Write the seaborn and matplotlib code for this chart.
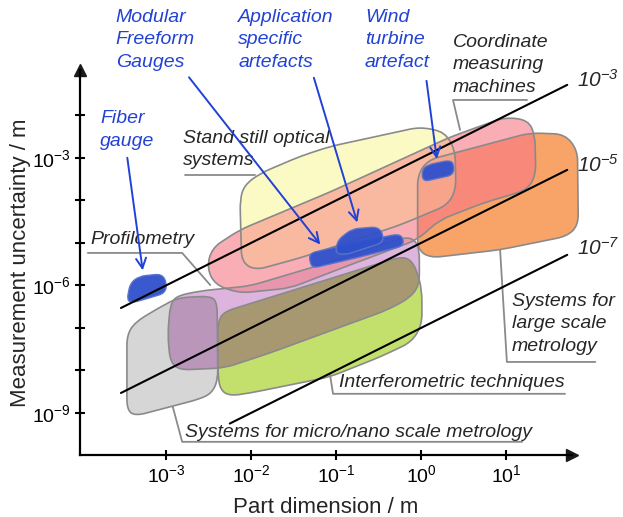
import numpy as np
import pandas as pd
import matplotlib
matplotlib.use('Agg')
import matplotlib.pyplot as plt
from matplotlib.path import Path
from matplotlib.patches import PathPatch
import seaborn as sns

# --- Data: region outlines, as decade exponents (log10 of metres) ---
# part dimension L and measurement uncertainty U
gray_logL = [-3.46, -3.36, -3.07, -2.86, -2.48, -2.40, -2.39, -2.46, -2.60, -3.36, -3.46]
gray_logU = [-7.16, -6.86, -6.51, -6.29, -6.25, -6.39, -8.22, -8.53, -8.67, -9.07, -8.93]

purple_logL = [-2.98, -2.95, -2.88, -2.60, -2.01, -1.07, -0.19, -0.07, -0.02, -0.02, -0.13, -0.40, -1.07, -1.78, -2.31, -2.84, -2.95]
purple_logU = [-7.16, -6.46, -6.25, -6.13, -6.01, -5.45, -4.86, -4.93, -5.16, -5.99, -6.29, -6.58, -7.07, -7.59, -7.94, -7.99, -7.80]

green_logL = [-2.39, -2.32, -1.42, -0.25, -0.13, -0.05, 0.01, 0.01, -0.11, -0.48, -1.07, -2.01, -2.25, -2.36, -2.39]
green_logU = [-6.86, -6.62, -6.06, -5.33, -5.38, -5.64, -6.11, -6.93, -7.33, -7.68, -8.15, -8.53, -8.60, -8.46, -8.11]

yellow_logL = [-2.13, -2.08, -1.89, -1.42, -1.07, -0.01, 0.28, 0.40, 0.41, 0.31, -0.25, -1.42, -1.95, -2.11]
yellow_logU = [-3.99, -3.64, -3.36, -2.96, -2.73, -2.27, -2.39, -2.81, -3.75, -4.11, -4.58, -5.35, -5.64, -5.45]

pink_logL = [-2.52, -2.46, -2.13, -1.07, 0.34, 0.99, 1.26, 1.34, 1.35, 1.25, 0.73, 0.22, -0.05, -0.84, -1.54, -2.13, -2.42]
pink_logU = [-5.59, -5.12, -4.69, -3.80, -2.51, -2.04, -2.11, -2.46, -3.40, -3.75, -4.06, -4.46, -4.93, -5.52, -6.06, -6.18, -5.99]

orange_logL = [-0.04, 0.08, 1.28, 1.69, 1.84, 1.85, 1.72, 0.93, 0.11, -0.04]
orange_logU = [-3.40, -3.05, -2.41, -2.44, -2.81, -4.58, -4.84, -5.16, -5.35, -5.16]

fiber_logL = [-3.46, -3.42, -3.31, -3.05, -2.99, -3.01, -3.19, -3.40]
fiber_logU = [-6.34, -5.94, -5.78, -5.73, -5.94, -6.18, -6.29, -6.41]

modular_logL = [-1.31, -0.84, -0.27, -0.21, -0.21, -0.72, -1.27, -1.31]
modular_logU = [-5.24, -5.02, -4.79, -4.88, -5.07, -5.33, -5.59, -5.45]

application_logL = [-1.01, -0.98, -0.81, -0.51, -0.44, -0.46, -0.60, -0.89]
application_logU = [-5.24, -4.93, -4.67, -4.62, -4.81, -5.00, -5.09, -5.28]

wind_logL = [0.02, 0.01, 0.08, 0.34, 0.39, 0.38, 0.22]
wind_logU = [-3.56, -3.28, -3.16, -3.05, -3.16, -3.40, -3.47]

# relative uncertainty lines U/L = 10^k
ratio_exp = [-3, -5, -7]
line_L_from = [-3.53, -3.53, -2.25]
line_L_to = [1.72, 1.72, 1.72]

x_ticks = [1e-3, 1e-2, 1e-1, 1e0, 1e1]
y_ticks = [1e-9, 1e-6, 1e-3]
y_minor = [1e-8, 1e-7, 1e-5, 1e-4, 1e-2]

# --- Style ---
sns.set_theme(style='white')
plt.rcParams['font.family'] = ['Liberation Sans', 'DejaVu Sans']
plt.rcParams['mathtext.fontset'] = 'custom'
plt.rcParams['mathtext.rm'] = 'Liberation Sans'
plt.rcParams['mathtext.sf'] = 'Liberation Sans:italic'

EDGE = '#8a8a8a'
BLUE = '#2142d4'
colors = {'gray': '#d6d6d6', 'purple': '#ddb4dd', 'green': '#c4e06c',
          'yellow': '#fcfac4', 'pink': '#f8aeb4', 'orange': '#f8a468'}
overlap = [('gray', 'purple', '#ba96ba'), ('purple', 'green', '#a89872'),
           ('yellow', 'pink', '#f9b8a0'), ('pink', 'purple', '#e896ae'),
           ('pink', 'orange', '#f8887a'), ('yellow', 'orange', '#f8a48a')]


def blob_path(logL, logU, r=0.25):
    # rounded outline; one decade of L is twice as wide as one of U
    p = np.column_stack([np.array(logL) * 2.0, logU])
    verts, codes = [], []
    for i in range(len(p)):
        a, b, c = p[i - 1], p[i], p[(i + 1) % len(p)]
        s = b + (a - b) * min(r / np.linalg.norm(a - b), 0.5)
        e = b + (c - b) * min(r / np.linalg.norm(c - b), 0.5)
        verts += [s, b, e]
        codes += [Path.MOVETO if i == 0 else Path.LINETO, Path.CURVE3, Path.CURVE3]
    verts.append(verts[0])
    codes.append(Path.CLOSEPOLY)
    v = np.array(verts)
    return Path(np.column_stack([10 ** (v[:, 0] / 2.0), 10 ** v[:, 1]]), codes)


fig = plt.figure(figsize=(6.23, 5.17), dpi=100)
ax = fig.add_axes([80 / 623, 62 / 517, 492 / 623, 385 / 517])
ax.set_xscale('log')
ax.set_yscale('log')
ax.set_xlim(10 ** -4.012, 10 ** 1.776)
ax.set_ylim(10 ** -9.99, 10 ** -0.93)

outlines = {'gray': (gray_logL, gray_logU), 'purple': (purple_logL, purple_logU),
            'green': (green_logL, green_logU), 'yellow': (yellow_logL, yellow_logU),
            'pink': (pink_logL, pink_logU), 'orange': (orange_logL, orange_logU)}

patches = {}
for name, (lx, ly) in outlines.items():
    pp = PathPatch(blob_path(lx, ly), facecolor=colors[name], edgecolor='none',
                   zorder=1, clip_on=False)
    ax.add_patch(pp)
    patches[name] = pp

# overlapping parts get their own (darker) blend colour
for a, b, c in overlap:
    lx, ly = outlines[b]
    op = PathPatch(blob_path(lx, ly), facecolor=c, edgecolor='none', zorder=1.5)
    ax.add_patch(op)
    op.set_clip_path(patches[a])

for name, (lx, ly) in outlines.items():
    ax.add_patch(PathPatch(blob_path(lx, ly), facecolor='none', edgecolor=EDGE,
                           lw=1.2, zorder=2, clip_on=False))

for lx, ly in [(fiber_logL, fiber_logU), (modular_logL, modular_logU),
               (application_logL, application_logU), (wind_logL, wind_logU)]:
    ax.add_patch(PathPatch(blob_path(lx, ly, r=0.15), facecolor='#2f50cc',
                           edgecolor='#5a74c8', lw=1.0, alpha=0.95, zorder=3))

# ratio lines
rows = []
for k, a, b in zip(ratio_exp, line_L_from, line_L_to):
    for l in (a, b):
        rows.append({'L': 10 ** l, 'U': 10 ** (l + k), 'ratio': k})
df_lines = pd.DataFrame(rows)
sns.lineplot(data=df_lines, x='L', y='U', units='ratio', estimator=None,
             color='black', lw=1.5, ax=ax, zorder=5)

for k, yl in zip(ratio_exp, [-1.16, -3.16, -5.12]):
    ax.text(10 ** 1.83, 10 ** yl, r'$\mathsf{10^{%d}}$' % k, fontsize=15,
            ha='left', va='center', clip_on=False)

# callouts: text, underline and leader to the region
callouts = [
    ('Stand still optical\nsystems', (-2.80, -2.81), [(-2.78, -3.40), (-1.95, -3.40)]),
    ('Profilometry', (-3.894, -4.93), [(-3.92, -5.235), (-2.81, -5.235), (-2.48, -5.99)]),
    ('Coordinate\nmeasuring\nmachines', (0.376, -0.81), [(0.459, -2.34), (0.376, -1.635), (1.247, -1.635)]),
    ('Systems for\nlarge scale\nmetrology', (1.07, -6.906), [(0.93, -5.16), (1.01, -7.8), (2.05, -7.8)]),
    ('Interferometric techniques', (-0.965, -8.29), [(-1.07, -8.11), (-1.035, -8.55), (1.694, -8.55)]),
    ('Systems for micro/nano scale metrology', (-2.78, -9.45), [(-2.92, -8.86), (-2.81, -9.68), (1.19, -9.68)]),
]
for txt, (tx, ty), pts in callouts:
    ax.text(10 ** tx, 10 ** ty, txt, fontsize=14, style='italic', ha='left',
            va='center', linespacing=1.4, clip_on=False, zorder=6)
    px = [10 ** p[0] for p in pts]
    py = [10 ** p[1] for p in pts]
    ax.plot(px, py, color=EDGE, lw=1.3, clip_on=False, zorder=4)

# blue artefact labels with arrows
artefacts = [
    ('Modular\nFreeform\nGauges', (-3.59, -0.224), (-2.75, -1.05), (-1.165, -5.09)),
    ('Application\nspecific\nartefacts', (-2.15, -0.224), (-1.27, -1.05), (-0.741, -4.58)),
    ('Wind\nturbine\nartefact', (-0.66, -0.224), (0.06, -1.12), (0.19, -3.09)),
    ('Fiber\ngauge', (-3.776, -2.34), (-3.46, -2.93), (-3.27, -5.71)),
]
for txt, (tx, ty), (sx, sy), (ex, ey) in artefacts:
    ax.text(10 ** tx, 10 ** ty, txt, fontsize=14, style='italic', color=BLUE,
            ha='left', va='center', linespacing=1.45, clip_on=False)
    ax.annotate('', xy=(10 ** ex, 10 ** ey), xytext=(10 ** sx, 10 ** sy),
                arrowprops=dict(arrowstyle='->', color=BLUE, lw=1.4,
                                mutation_scale=18), zorder=7)

# axes with arrow heads
for s in ['top', 'right']:
    ax.spines[s].set_visible(False)
for s in ['left', 'bottom']:
    ax.spines[s].set_color('black')
    ax.spines[s].set_linewidth(1.6)
ax.plot(1, 0, '>k', ms=9, transform=ax.transAxes, clip_on=False)
ax.plot(0, 1, '^k', ms=9, transform=ax.transAxes, clip_on=False)

ax.set_xticks(x_ticks)
ax.set_yticks(y_ticks)
ax.set_yticks(y_minor, minor=True)
ax.xaxis.set_minor_locator(matplotlib.ticker.NullLocator())
ax.yaxis.set_minor_formatter(matplotlib.ticker.NullFormatter())
ax.tick_params(which='both', direction='inout', length=7, width=1.5,
               colors='black', labelsize=14, bottom=True, left=True, pad=3)
ax.set_xlabel('Part dimension / m', fontsize=16, labelpad=8)
ax.set_ylabel('Measurement uncertainty / m', fontsize=16, labelpad=1)

fig.savefig('out.png', dpi=100)
